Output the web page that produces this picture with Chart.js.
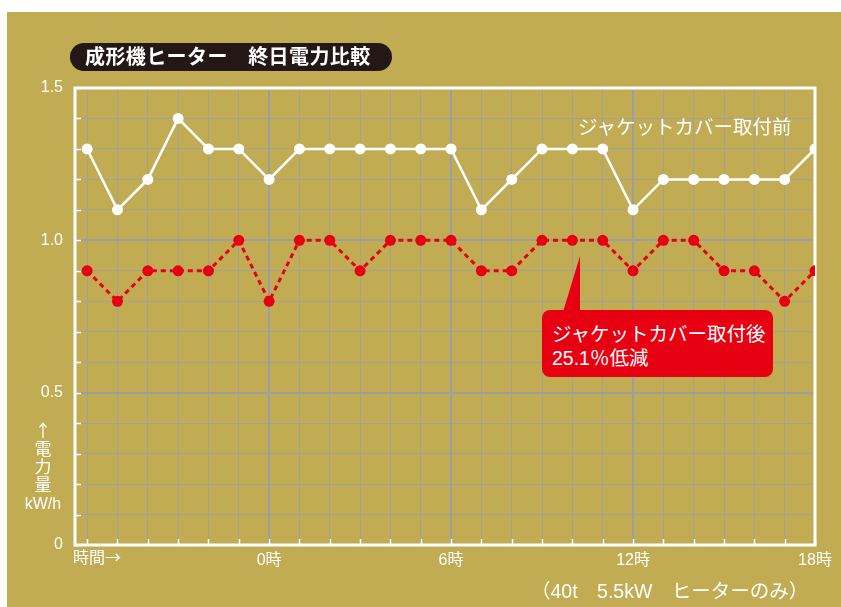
<!DOCTYPE html>
<html lang="ja">
<head>
<meta charset="utf-8">
<script src="https://cdn.jsdelivr.net/npm/chart.js@4"></script>
<style>
  html, body { margin: 0; padding: 0; background: #fff; }
  #page { position: relative; width: 841px; height: 607px; overflow: hidden; font-family: "Liberation Sans", "Noto Sans CJK JP", sans-serif; color: #fff; }
  #panel { position: absolute; left: 7px; top: 12px; width: 834px; height: 595px; background: #c1ac54; }
  #chart { position: absolute; left: 0; top: 0; }
  .txt { position: absolute; white-space: nowrap; line-height: 1; }
  .cjk { font-family: "Noto Sans CJK JP", sans-serif; }
  #title { left: 70px; top: 43px; width: 322px; height: 28px; border-radius: 14px; background: #231815; }
  #title span { position: absolute; left: 15px; top: 4px; font-size: 20px; font-weight: bold; letter-spacing: 0.4px; }
  #before { left: 578px; top: 118px; font-size: 19.5px; }
  #callout { position: absolute; left: 542px; top: 310px; width: 231px; height: 67px; background: #e60012; border-radius: 8px; }
  #tail { position: absolute; left: 560px; top: 256px; width: 22px; height: 56px; background: #e60012; clip-path: polygon(20px 0, 20px 56px, 3px 56px); }
  #after { left: 552px; top: 322px; font-size: 19.5px; line-height: 24px; }
  #ytitle { left: 22px; top: 421px; width: 42px; text-align: center; font-size: 17px; line-height: 18px; white-space: normal; }
  #ytitle .kw { font-size: 16px; }
  #xstart { left: 73px; top: 548px; font-size: 16px; }
  #note { left: 531px; top: 582px; font-size: 19.5px; }
</style>
</head>
<body>
<div id="page">
  <div id="panel"></div>
  <canvas id="chart" width="841" height="607"></canvas>
  <div id="title" class="txt"><span>成形機ヒーター　終日電力比較</span></div>
  <div id="before" class="txt">ジャケットカバー取付前</div>
  <div id="tail"></div>
  <div id="callout"></div>
  <div id="after" class="txt">ジャケットカバー取付後<br>25.1％低減</div>
  <div id="ytitle" class="txt"><span class="cjk">↑</span><br>電<br>力<br>量<br><span class="kw">kW/h</span></div>
  <div id="xstart" class="txt cjk">時間→</div>
  <div id="note" class="txt">（40t　5.5kW　ヒーターのみ）</div>
</div>
<script>
// Data (kW/h per time step)
const xSteps = [0, 1, 2, 3, 4, 5, 6, 7, 8, 9, 10, 11, 12, 13, 14, 15, 16, 17, 18, 19, 20, 21, 22, 23, 24];
const xTickLabels = ['', '', '', '', '', '', '0時', '', '', '', '', '', '6時', '', '', '', '', '', '12時', '', '', '', '', '', '18時'];
const majorX = [6, 12, 18];
const beforeCover = [1.3, 1.1, 1.2, 1.4, 1.3, 1.3, 1.2, 1.3, 1.3, 1.3, 1.3, 1.3, 1.3, 1.1, 1.2, 1.3, 1.3, 1.3, 1.1, 1.2, 1.2, 1.2, 1.2, 1.2, 1.3];
const afterCover = [0.9, 0.8, 0.9, 0.9, 0.9, 1.0, 0.8, 1.0, 1.0, 0.9, 1.0, 1.0, 1.0, 0.9, 0.9, 1.0, 1.0, 1.0, 0.9, 1.0, 1.0, 0.9, 0.9, 0.8, 0.9];
const yGridValues = [0, 0.1, 0.2, 0.3, 0.4, 0.5, 0.6, 0.7, 0.8, 0.9, 1.0, 1.1, 1.2, 1.3, 1.4, 1.5];
const yTickLabels = { '0': '0', '0.5': '0.5', '1': '1.0', '1.5': '1.5' };

const RED = '#e60012';
const GRID = 'rgba(158,158,160,0.9)';
const GRID_MAJOR = '#9a9ea6';

const isMajorY = v => Math.abs(v * 2 - Math.round(v * 2)) < 1e-6;

// white frame + small inner ticks, like the printed chart
const framePlugin = {
    id: 'frame',
    beforeDatasetsDraw: (chart) => {
        const { ctx, chartArea: a, scales: { x, y } } = chart;
        ctx.save();
        ctx.strokeStyle = '#fff';
        ctx.lineWidth = 1.5;
        yGridValues.forEach(v => {
            const py = Math.round(y.getPixelForValue(v)) + 0.5;
            ctx.beginPath(); ctx.moveTo(a.left, py); ctx.lineTo(a.left + 6, py); ctx.stroke();
        });
        xSteps.forEach(v => {
            const px = Math.round(x.getPixelForValue(v)) + 0.5;
            ctx.beginPath(); ctx.moveTo(px, a.bottom); ctx.lineTo(px, a.bottom - 6); ctx.stroke();
        });
        ctx.lineWidth = 3;
        ctx.strokeRect(a.left, a.top, a.right - a.left, a.bottom - a.top);
        ctx.restore();
    }
};

Chart.defaults.font.family = "'Liberation Sans', 'Noto Sans CJK JP', sans-serif";
Chart.defaults.color = '#fff';

new Chart(document.getElementById('chart').getContext('2d'), {
    type: 'line',
    data: {
        datasets: [
            {
                label: 'ジャケットカバー取付後',
                data: afterCover.map((v, i) => ({ x: xSteps[i], y: v })),
                borderColor: RED,
                backgroundColor: RED,
                borderWidth: 3,
                borderDash: [5, 4],
                pointRadius: 5.5,
                pointBorderWidth: 0,
                tension: 0
            },
            {
                label: 'ジャケットカバー取付前',
                data: beforeCover.map((v, i) => ({ x: xSteps[i], y: v })),
                borderColor: '#fff',
                backgroundColor: '#fff',
                borderWidth: 2.5,
                pointRadius: 5.5,
                pointBorderWidth: 0,
                tension: 0
            }
        ]
    },
    options: {
        responsive: false,
        animation: false,
        layout: { padding: { top: 88, right: 26, left: 0, bottom: 0 } },
        plugins: { legend: { display: false }, tooltip: { enabled: false } },
        scales: {
            x: {
                type: 'linear',
                min: -0.4,
                max: 24,
                afterBuildTicks: s => { s.ticks = xSteps.map(v => ({ value: v })); },
                afterFit: s => { s.height = 62; },
                border: { display: false },
                grid: {
                    drawTicks: false,
                    color: c => majorX.includes(c.tick.value) ? GRID_MAJOR : GRID,
                    lineWidth: c => majorX.includes(c.tick.value) ? 2 : 1
                },
                ticks: {
                    autoSkip: false,
                    maxRotation: 0,
                    padding: 6,
                    font: { size: 16 },
                    callback: v => xTickLabels[v] || ''
                }
            },
            y: {
                min: 0,
                max: 1.5,
                afterBuildTicks: s => { s.ticks = yGridValues.map(v => ({ value: v })); },
                afterFit: s => { s.width = 75; },
                border: { display: false },
                grid: {
                    drawTicks: false,
                    color: c => isMajorY(c.tick.value) ? GRID_MAJOR : GRID,
                    lineWidth: c => isMajorY(c.tick.value) ? 2 : 1
                },
                ticks: {
                    padding: 12,
                    font: { size: 16 },
                    callback: v => yTickLabels[String(Math.round(v * 10) / 10)] || ''
                }
            }
        }
    },
    plugins: [framePlugin]
});
</script>
</body>
</html>
